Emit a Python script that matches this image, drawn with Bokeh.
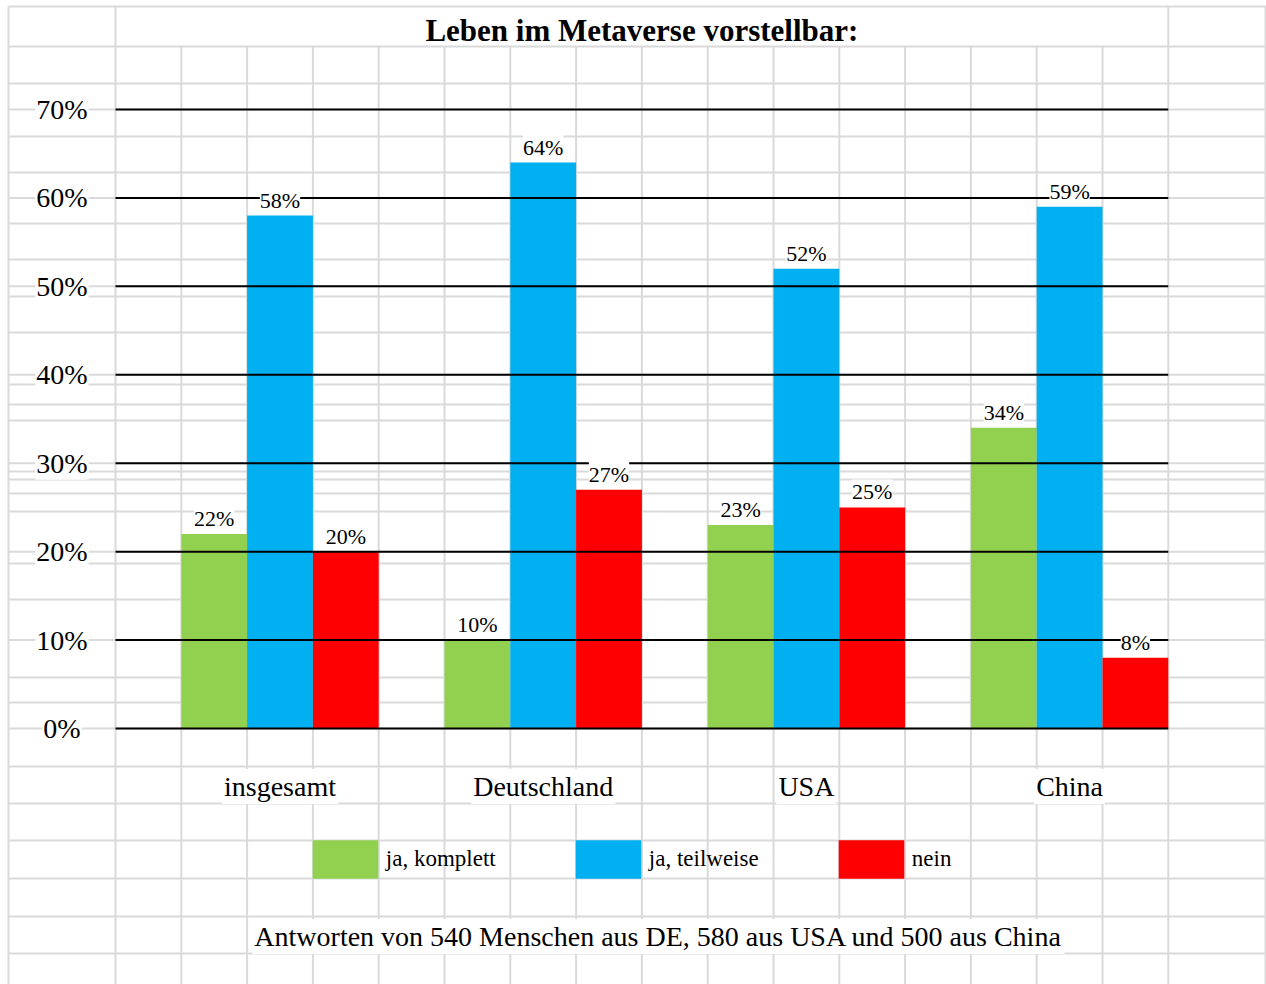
import numpy as np
from bokeh.plotting import figure
from bokeh.models import Range1d, ColumnDataSource, Legend, LegendItem, Label
from bokeh.core.properties import value
from bokeh.embed import file_html
from bokeh.resources import INLINE

# ---------------- data ----------------
title = "Leben im Metaverse vorstellbar:"
categories = ["insgesamt", "Deutschland", "USA", "China"]
series = ["ja, komplett", "ja, teilweise", "nein"]
ja_komplett = [22, 10, 23, 34]
ja_teilweise = [58, 64, 52, 59]
nein = [20, 27, 25, 8]
y_ticks = [0, 10, 20, 30, 40, 50, 60, 70]
y_tick_labels = ["0%", "10%", "20%", "30%", "40%", "50%", "60%", "70%"]
footnote = "Antworten von 540 Menschen aus DE, 580 aus USA und 500 aus China"

# ---------------- style / layout ----------------
colors = ["#92D050", "#00B0F0", "#FF0000"]
FONT = "Liberation Serif"
GRAY = "#DADADA"
W, H = 1266, 984
PAGE_L, PAGE_T = 0, 0          # where the figure starts on the page
COL0, COL_W = 115, 65.8        # first sheet column of the chart, column width (px)
ZERO_Y, TOP_Y = 728, 109       # page rows of the lowest and highest tick
ppu = (ZERO_Y - TOP_Y) / (y_ticks[-1] - y_ticks[0])

x_start = (PAGE_L - COL0) / COL_W
x_end = (PAGE_L + W - COL0) / COL_W
y_start = (ZERO_Y - (PAGE_T + H)) / ppu
y_end = (ZERO_Y - PAGE_T) / ppu
x_sheet_left = (8 - COL0) / COL_W


def ydata(py):
    return (ZERO_Y - py) / ppu


group = len(series) + 1
n_cols = group * len(categories)

p = figure(width=W, height=H, x_range=Range1d(x_start, x_end), y_range=Range1d(y_start, y_end),
           x_axis_type=None, y_axis_type=None, toolbar_location=None, output_backend="svg",
           min_border=0, outline_line_color=None, title=None)
p.background_fill_color = "white"
p.border_fill_color = "white"

# ---------------- spreadsheet cell lines (decoration) ----------------
sheet_rows_px = [6, 46, 83, 136, 172, 223, 259, 296, 332, 384, 404, 420, 471, 479, 493,
                 511, 563, 599, 677, 702, 766, 803, 840, 878, 916, 953]
row_y = [ydata(r) for r in sheet_rows_px] + list(y_ticks)
p.segment(x0=[x_sheet_left] * len(row_y), x1=[x_end] * len(row_y), y0=row_y, y1=row_y,
          line_color=GRAY, line_width=2)
x_sheet_right = (1265 - COL0) / COL_W
vx, vy1 = [], []
for c in [x_sheet_left, x_sheet_right] + list(range(0, n_cols + 1)):
    vx.append(c)
    vy1.append(ydata(6) if (c in (x_sheet_left, x_sheet_right, 0, n_cols)) else ydata(46))
p.segment(x0=vx, x1=vx, y0=[y_start] * len(vx), y1=vy1, line_color=GRAY, line_width=2)

# ---------------- bars ----------------
values = [ja_komplett, ja_teilweise, nein]
cat_idx = np.arange(len(categories))
bar_renderers = []
label_sources = []
for s_i, (vals, col) in enumerate(zip(values, colors)):
    src = ColumnDataSource(dict(
        x=cat_idx * group + 1.5 + s_i,
        top=vals,
        label=[f"{v}%" for v in vals],
    ))
    r = p.vbar(x="x", top="top", bottom=0, width=1.0, source=src,
               fill_color=col, line_color=None)
    bar_renderers.append(r)
    label_sources.append(src)

# ---------------- black value grid lines ----------------
p.segment(x0=[0] * len(y_ticks), x1=[n_cols] * len(y_ticks), y0=y_ticks, y1=y_ticks,
          line_color="black", line_width=2)

# ---------------- value labels ----------------
for src in label_sources:
    p.text(x="x", y="top", text="label", source=src, y_offset=-3,
           text_align="center", text_baseline="bottom",
           text_font=value(FONT), text_font_size="22px", text_color="black",
           background_fill_color="white", padding=0)

# ---------------- y tick labels ----------------
p.text(x=[x_sheet_left / 2] * len(y_ticks), y=y_ticks, text=y_tick_labels,
       text_align="center", text_baseline="middle",
       text_font=value(FONT), text_font_size="28px", text_color="black",
       background_fill_color="white", padding=1)

# ---------------- category labels ----------------
p.text(x=cat_idx * group + 2.5, y=[0] * len(categories), text=categories, y_offset=58,
       text_align="center", text_baseline="middle",
       text_font=value(FONT), text_font_size="28px", text_color="black",
       background_fill_color="white", padding=2)

# ---------------- legend ----------------
legend = Legend(items=[LegendItem(label=s, renderers=[r]) for s, r in zip(series, bar_renderers)],
                orientation="horizontal", location=(303.8, H - 882.8),
                glyph_width=82, glyph_height=48, label_standoff=0, label_width=181,
                spacing=0, padding=0, margin=0,
                border_line_color=None, background_fill_alpha=0,
                label_text_font=FONT, label_text_font_size="23px", label_text_color="black")
p.add_layout(legend)

# ---------------- title and footnote ----------------
p.add_layout(Label(x=n_cols / 2, y=H - 30, x_units="data", y_units="screen",
                   text=title, text_align="center", text_baseline="middle",
                   text_font=FONT, text_font_size="31px", text_font_style="bold",
                   text_color="black"))
p.add_layout(Label(x=8.25, y=H - 936, x_units="data", y_units="screen",
                   text=footnote, text_align="center", text_baseline="middle",
                   text_font=FONT, text_font_size="28px", text_color="black",
                   background_fill_color="white", padding=2))

open("out.html", "w").write(file_html(p, INLINE))
